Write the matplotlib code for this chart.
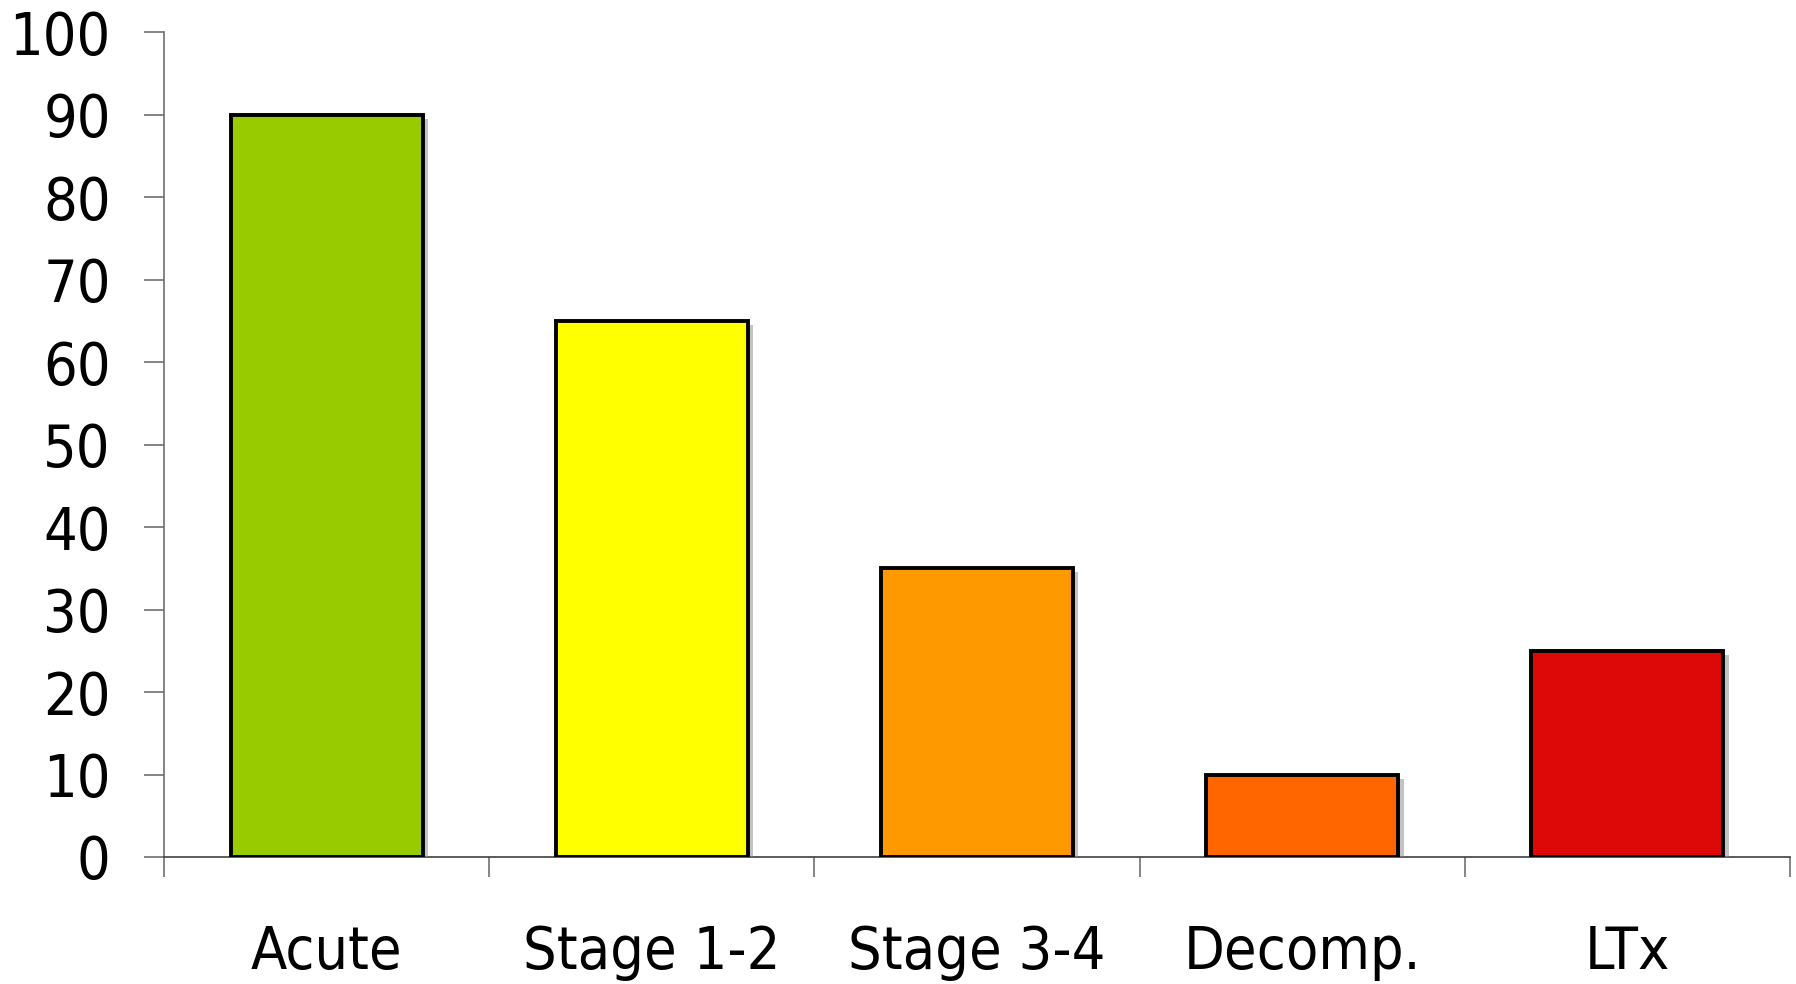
import matplotlib.pyplot as plt
import matplotlib.patheffects as pe
from matplotlib.ticker import FixedLocator

categories = ["Acute", "Stage 1-2", "Stage 3-4", "Decomp.", "LTx"]
values = [90, 65, 35, 10, 25]
colors = ["#99CC00", "#FFFF00", "#FF9900", "#FF6600", "#DD0808"]
yticks = [0, 10, 20, 30, 40, 50, 60, 70, 80, 90, 100]

plt.rcParams['font.family'] = ['DejaVu Sans']

fig = plt.figure(figsize=(17.96, 9.84), dpi=100)
ax = fig.add_axes([164 / 1796, 1 - 857 / 984, (1790 - 164) / 1796, (857 - 32) / 984])

x = list(range(len(categories)))
bars = ax.bar(x, values, width=0.59, color=colors, edgecolor="black", linewidth=2.8, zorder=3)
for b in bars:
    b.set_path_effects([pe.SimplePatchShadow(offset=(4, -3), shadow_rgbFace="#888888", alpha=0.5), pe.Normal()])

ax.set_xlim(-0.5, len(categories) - 0.5)
ax.set_ylim(0, 100)
ax.set_yticks(yticks)
ax.set_xticks(x)
ax.set_xticklabels(categories, fontsize=42.5, stretch="condensed")
ax.set_yticklabels([str(v) for v in yticks], fontsize=42.5, stretch="condensed")

# category boundary ticks
ax.xaxis.set_minor_locator(FixedLocator([i - 0.5 for i in range(len(categories) + 1)]))
ax.tick_params(axis="x", which="major", length=0, pad=48)
ax.tick_params(axis="x", which="minor", length=14.4, width=1.2, color="#707070")
ax.tick_params(axis="y", length=14.4, width=1.2, color="#707070", pad=24)

for s in ["top", "right"]:
    ax.spines[s].set_visible(False)
ax.spines["left"].set_color("#707070")
ax.spines["left"].set_linewidth(1.2)
ax.spines["bottom"].set_color("#404040")
ax.spines["bottom"].set_linewidth(1.2)

fig.savefig("out.png", dpi=100, facecolor="white")
